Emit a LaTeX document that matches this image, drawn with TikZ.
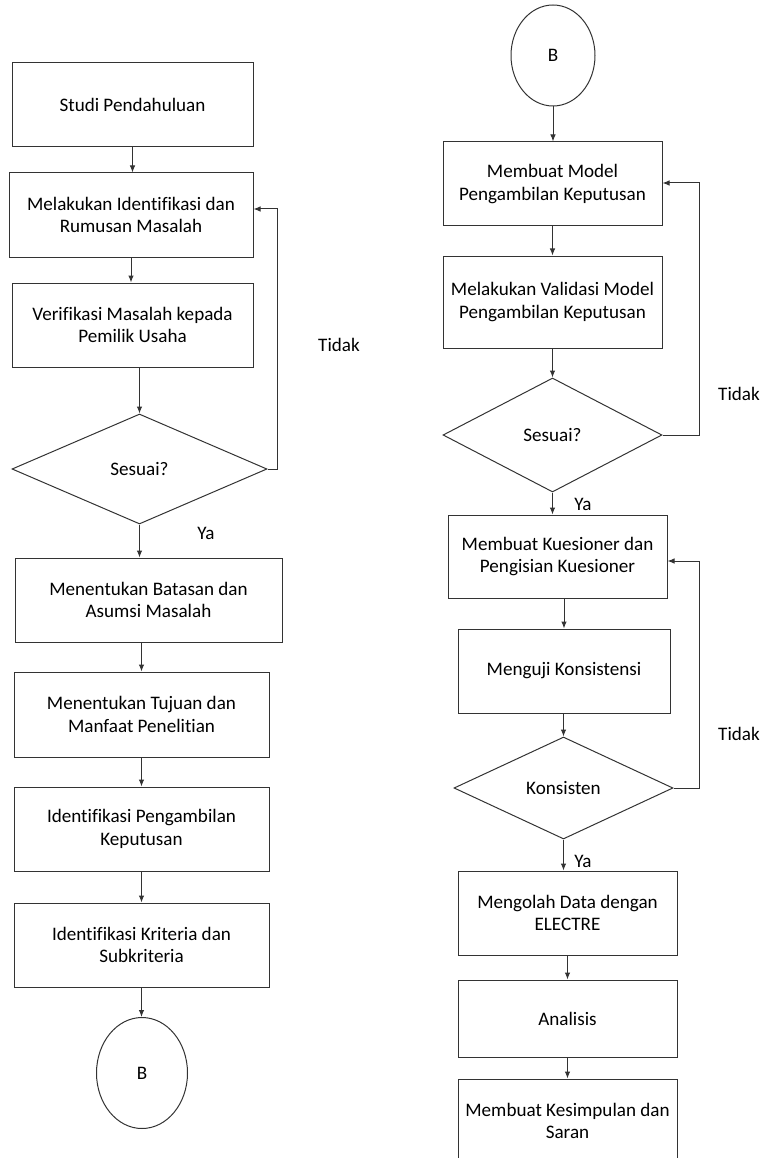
\documentclass[tikz,border=0pt]{standalone}
\usepackage{fontspec}
\setmainfont{Carlito}[Ligatures=NoCommon]
\usepackage{tikz}
\usetikzlibrary{positioning, calc, arrows.meta, shapes.geometric}

\begin{document}
\begin{tikzpicture}[x=1pt, y=-1pt, font=\fontsize{19.1pt}{22.8pt}\selectfont, line width=1pt,
    box/.style = {draw=black!80, rectangle, align=center, inner sep=0pt, minimum width=219, minimum height=84},
    decision/.style = {draw=black!80, diamond, align=center, inner sep=0pt},
    connector/.style = {draw=black!80, ellipse, inner sep=0pt},
    arr/.style = {draw=black!80, -{Latex[length=7pt, width=5.5pt]}},
    note/.style = {inner sep=0pt}]
    \useasboundingbox (0,0) rectangle (760,1158);
    \clip (0,0) rectangle (760,1158);

    % kolom kiri
    \node[box, minimum width=241] (studi) at (132.5,105) {Studi Pendahuluan};
    \node[box, minimum width=244] (identifikasi) at (131,215) {Melakukan Identifikasi dan\\Rumusan Masalah};
    \node[box, minimum width=241] (verifikasi) at (132.5,325) {Verifikasi Masalah kepada\\Pemilik Usaha};
    \node[decision, minimum width=255, minimum height=110] (sesuai1) at (139.5,469) {Sesuai?};
    \node[box, minimum width=267] (batasan) at (148.5,600) {Menentukan Batasan dan\\Asumsi Masalah};
    \node[box, minimum width=255, minimum height=85] (tujuan) at (141.5,714.5) {Menentukan Tujuan dan\\Manfaat Penelitian};
    \node[box, minimum width=255] (pengambilan) at (141.5,829) {Identifikasi Pengambilan\\Keputusan};
    \node[box, minimum width=255] (kriteria) at (141.5,945) {Identifikasi Kriteria dan\\Subkriteria};
    \node[connector, minimum width=91, minimum height=111] (b1) at (142,1073) {B};

    \draw[arr] (studi.south) -- (studi.south |- identifikasi.north);
    \draw[arr] (identifikasi.south) -- (identifikasi.south |- verifikasi.north);
    \draw[arr] (verifikasi.south -| sesuai1.north) -- (sesuai1.north);
    \draw[arr] (sesuai1.south) -- (sesuai1.south |- batasan.north);
    \draw[arr] (tujuan.north |- batasan.south) -- (tujuan.north);
    \draw[arr] (tujuan.south) -- (pengambilan.north);
    \draw[arr] (pengambilan.south) -- (kriteria.north);
    \draw[arr] (kriteria.south) -- (kriteria.south |- b1.north);
    \coordinate (balik1) at (277,209);
    \draw[arr] (sesuai1.east) -| (balik1) -- (balik1 -| identifikasi.east);
    \node[note] (tidak1) at (339,345) {Tidak};
    \node[note] (ya1) at (206,533) {Ya};

    % kolom kanan
    \node[connector, minimum width=84, minimum height=101] (b2) at (553,55.5) {B};
    \node[box] (model) at (552.5,184) {Membuat Model\\Pengambilan Keputusan};
    \node[box, minimum height=92] (validasi) at (552.5,302) {Melakukan Validasi Model\\Pengambilan Keputusan};
    \node[decision, minimum width=219, minimum height=114] (sesuai2) at (552.5,435) {Sesuai?};
    \node[box, minimum height=83] (kuesioner) at (557.5,556.5) {Membuat Kuesioner dan\\Pengisian Kuesioner};
    \node[box, minimum width=212] (menguji) at (564,671) {Menguji Konsistensi};
    \node[decision, minimum width=219, minimum height=102] (konsisten) at (563.5,788) {Konsisten};
    \node[box] (electre) at (567.5,913) {Mengolah Data dengan\\ELECTRE};
    \node[box, minimum height=77] (analisis) at (567.5,1018.5) {Analisis};
    \node[box] (kesimpulan) at (567.5,1121) {Membuat Kesimpulan dan\\Saran};

    \draw[arr] (b2.south) -- (b2.south |- model.north);
    \draw[arr] (model.south) -- (validasi.north);
    \draw[arr] (validasi.south) -- (sesuai2.north);
    \draw[arr] (sesuai2.south) -- (sesuai2.south |- kuesioner.north);
    \draw[arr] (menguji.north |- kuesioner.south) -- (menguji.north);
    \draw[arr] (konsisten.north |- menguji.south) -- (konsisten.north);
    \draw[arr] (konsisten.south) -- (konsisten.south |- electre.north);
    \draw[arr] (electre.south) -- (analisis.north);
    \draw[arr] (analisis.south) -- (kesimpulan.north);
    \coordinate (balik2) at (699,183);
    \draw[arr] (sesuai2.east) -| (balik2) -- (balik2 -| model.east);
    \coordinate (balik3) at (699,561);
    \draw[arr] (konsisten.east) -| (balik3) -- (balik3 -| kuesioner.east);
    \node[note] (tidak2) at (739,394) {Tidak};
    \node[note] (ya2) at (583,504) {Ya};
    \node[note] (tidak3) at (739,734) {Tidak};
    \node[note] (ya3) at (583,861) {Ya};
\end{tikzpicture}
\end{document}
